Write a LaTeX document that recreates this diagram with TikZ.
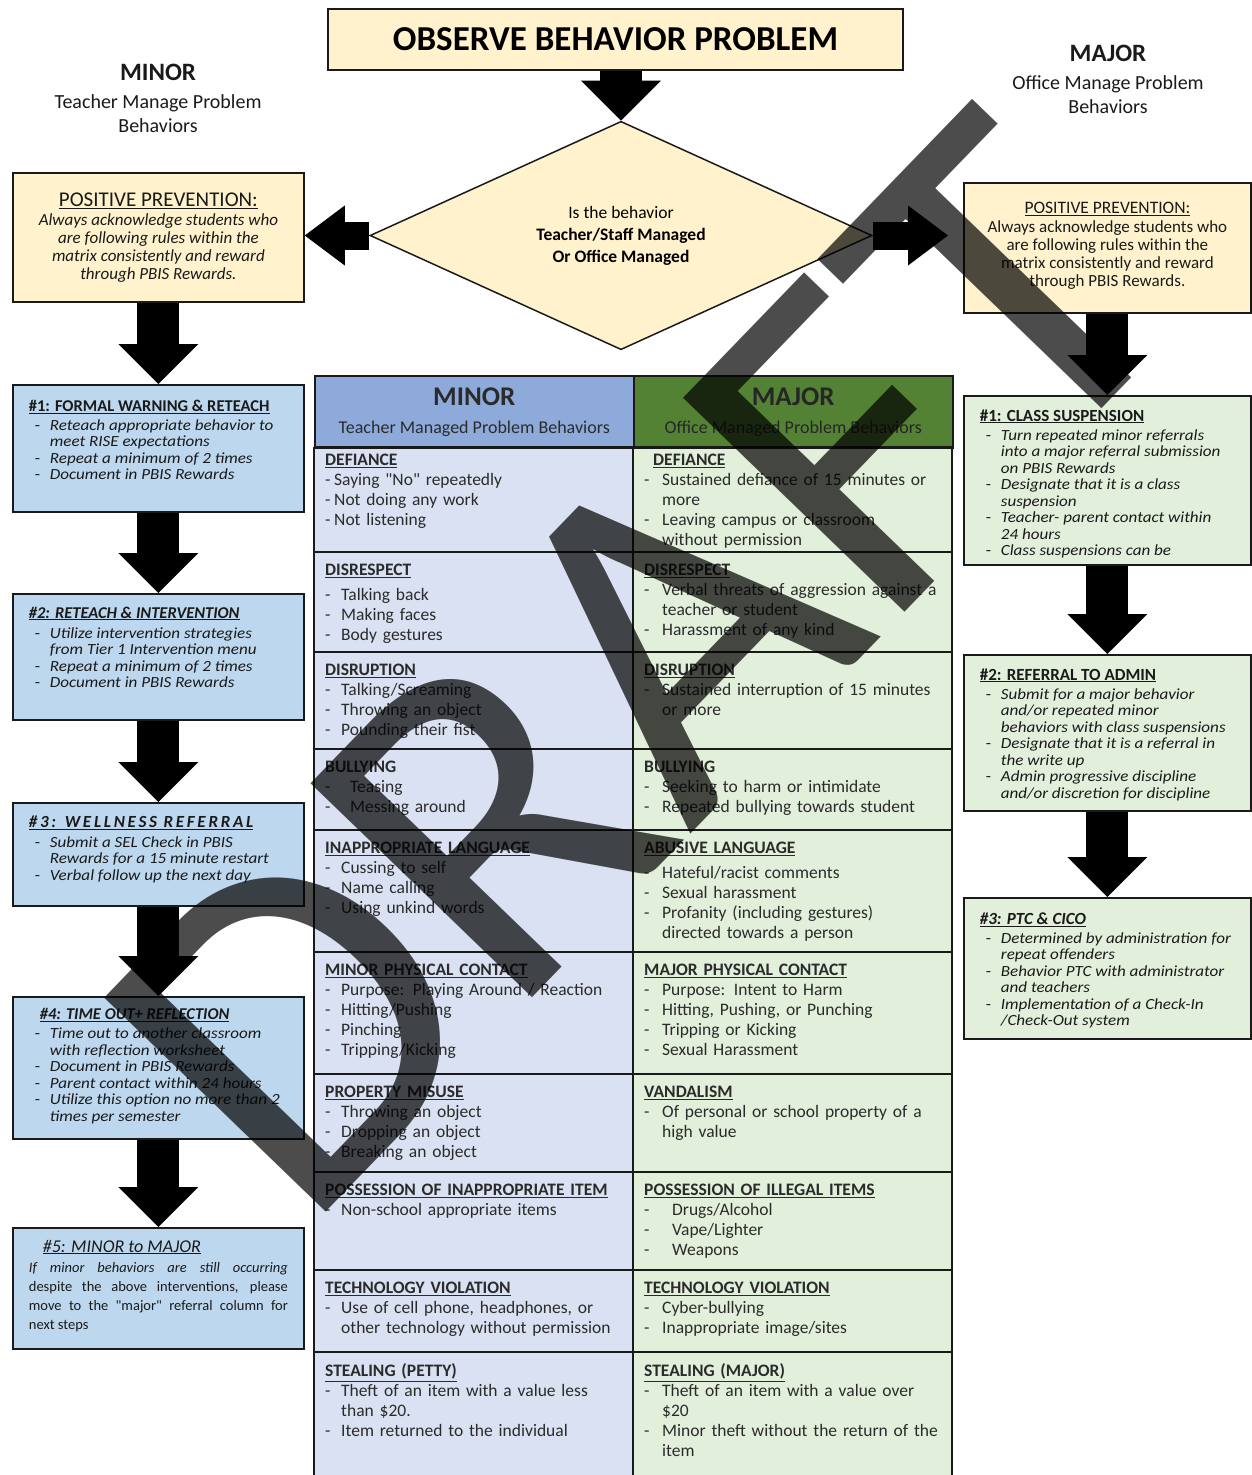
\documentclass[tikz,border=0pt]{standalone}
\usepackage{fontspec}
\setmainfont{Carlito}
\newfontfamily\boxfamily{Carlito}[FakeStretch=1.1]
\usepackage{tikz}
\usetikzlibrary{arrows.meta,positioning,shapes.geometric,calc}
\definecolor{Ink}{HTML}{1A1A1A}
\definecolor{Cream}{HTML}{FFF2CC}
\definecolor{SkyBlue}{HTML}{BDD7EE}
\definecolor{Sage}{HTML}{E2EFDA}
\definecolor{MinorHead}{HTML}{8EAADB}
\definecolor{MajorHead}{HTML}{548235}
\definecolor{MinorCell}{HTML}{D9E1F2}
\definecolor{MajorCell}{HTML}{E2EFDA}
\definecolor{Slate}{HTML}{2B2B2B}
\newcommand\boxfont{\boxfamily\fontsize{15.5}{16.5}\selectfont}
\newcommand\cellfont{\fontsize{17.5}{20}\selectfont}
\newcommand\hd[1]{\textbf{\underline{#1}}\par}
\newcommand\titem[2][16pt]{\hangindent=#1\hangafter=1\noindent\makebox[#1][l]{-}#2\par}
\newcommand\bx[1]{\hangindent=21pt\hangafter=1\noindent\makebox[21pt][l]{\hspace{6pt}\upshape-}#1\par}
\newcommand\leftbody[2]{\parbox[c][#1][t]{259pt}{\raggedright#2}}
\newcommand\rightbody[2]{\parbox[c][#1][t]{255pt}{\raggedright#2}}
\tikzset{
  stepbox/.style={draw=Ink,line width=1.8pt,anchor=north west,inner xsep=16pt,inner ysep=0pt,
              text=Ink,font=\boxfont},
  minorbox/.style={stepbox,fill=SkyBlue},
  majorbox/.style={stepbox,fill=Sage},
  ppbox/.style={stepbox,fill=Cream},
  titlebox/.style={draw=Ink,line width=1.8pt,fill=Cream,minimum width=575pt,minimum height=61pt,
              font=\fontsize{35}{40}\selectfont\bfseries},
  decision/.style={diamond,draw=Ink,line width=1.5pt,fill=Cream,minimum width=502pt,
              minimum height=161pt,inner sep=0pt,align=center,font=\fontsize{17.5}{22}\selectfont},
  sidehead/.style={align=center,text=Ink,font=\fontsize{20}{24}\selectfont},
  tablehead/.style={draw=Ink,line width=1.5pt,anchor=north west,minimum width=319pt,
              minimum height=72pt,align=center,inner sep=0pt,font=\fontsize{18}{24}\selectfont},
  celltext/.style={anchor=north west,inner sep=0pt,text width=320pt,align=left,text=Slate,font=\cellfont},
  grid/.style={draw=Ink,line width=1.5pt},
  downarrow/.style={line width=42pt,draw=black,-{Triangle[width=80pt,length=40pt,line width=0pt]}},
  sidearrow/.style={line width=28pt,draw=black,-{Triangle[width=60pt,length=40pt,line width=0pt]}},
  watermark/.style={inner sep=0pt,text=black,opacity=0.7,font=\fontsize{480}{480}\selectfont}
}

\begin{document}
\begin{tikzpicture}[x=1pt,y=-1pt]
  \useasboundingbox (0,0) rectangle (1251,1475);
  % decision at the top
  \node[titlebox] (observe) at (615.5,39.5) {OBSERVE BEHAVIOR PROBLEM};
  \node[decision] (ask) at (621,235.5) {Is the behavior\\\textbf{Teacher/Staff Managed}\\\textbf{Or Office Managed}};
  \node[sidehead] (minortitle) at (158,98) {{\fontsize{25}{28}\selectfont\bfseries MINOR}\\[4pt]Teacher Manage Problem\\Behaviors};
  \node[sidehead] (majortitle) at (1108,79) {{\fontsize{25}{28}\selectfont\bfseries MAJOR}\\[4pt]Office Manage Problem\\Behaviors};

  % minor steps
  \node[ppbox] (leftpp) at (12,172) {\leftbody{129pt}{\centering\vspace*{20pt}
    {\rmfamily\fontsize{21}{22}\selectfont\underline{POSITIVE PREVENTION:}}\par\vspace{1pt}
    \rmfamily\itshape\fontsize{17}{18}\selectfont Always acknowledge students who\\are following rules within the\\matrix consistently and reward\\through PBIS Rewards.}};
  \node[minorbox] (warn) at (12,384) {\leftbody{127pt}{\vspace*{15pt}
    {\rmfamily\bfseries\fontsize{16.5}{18}\selectfont\underline{\#1: FORMAL WARNING \& RETEACH}}\par\vspace{2.5pt}\itshape
    \bx{Reteach appropriate behavior to\newline meet RISE expectations}
    \bx{Repeat a minimum of 2 times}
    \bx{Document in PBIS Rewards}}};
  \node[minorbox] (reteach) at (12,593) {\leftbody{126pt}{\vspace*{12.8pt}
    {\rmfamily\bfseries\itshape\fontsize{16.5}{18}\selectfont\underline{\#2: RETEACH \& INTERVENTION}}\par\vspace{3.5pt}\itshape
    \bx{Utilize intervention strategies\newline from Tier 1 Intervention menu}
    \bx{Repeat a minimum of 2 times}
    \bx{Document in PBIS Rewards}}};
  \node[minorbox] (wellness) at (12,802) {\leftbody{103pt}{\vspace*{13pt}
    {\rmfamily\bfseries\itshape\fontsize{17}{18}\selectfont\addfontfeatures{LetterSpace=16}\underline{\#3: WELLNESS REFERRAL}}\par\vspace{3pt}\itshape
    \bx{Submit a SEL Check in PBIS\newline Rewards for a 15 minute restart}
    \bx{Verbal follow up the next day}}};
  \node[minorbox] (timeout) at (12,996) {\leftbody{142pt}{\vspace*{11.8pt}
    \hspace*{11pt}{\rmfamily\bfseries\itshape\fontsize{16.5}{18}\selectfont\underline{\#4: TIME OUT+ REFLECTION}}\par\vspace{2.5pt}\itshape
    \bx{Time out to another classroom\newline with reflection worksheet}
    \bx{Document in PBIS Rewards}
    \bx{Parent contact within 24 hours}
    \bx{Utilize this option no more than 2\newline times per semester}}};
  \node[minorbox] (tomajor) at (12,1227) {\parbox[c][121pt][t]{259pt}{\vspace*{12pt}
    \hspace*{14pt}{\rmfamily\itshape\fontsize{18}{20}\selectfont\underline{\#5: MINOR to MAJOR}}\par\vspace{1pt}
    \rmfamily\fontsize{14.5}{19}\selectfont{\itshape If minor behaviors are still occurring}\linebreak
    despite the above interventions, please\linebreak
    move to the \textquotedbl major\textquotedbl{} referral column for\linebreak
    next steps\par}};

  % major steps
  \node[ppbox] (rightpp) at (963,182) {\rightbody{130pt}{\centering\vspace*{19pt}
    {\rmfamily\fontsize{17.5}{20}\selectfont\underline{POSITIVE PREVENTION:}}\par\vspace{1pt}
    \rmfamily\fontsize{17}{18}\selectfont Always acknowledge students who\\are following rules within the\\matrix consistently and reward\\through PBIS Rewards.}};
  \node[majorbox] (suspend) at (963,395) {\rightbody{169pt}{\vspace*{13.6pt}
    {\rmfamily\bfseries\fontsize{17}{18}\selectfont\underline{\#1: CLASS SUSPENSION}}\par\vspace{2.5pt}\itshape
    \bx{Turn repeated minor referrals\newline into a major referral submission\newline on PBIS Rewards}
    \bx{Designate that it is a class\newline suspension}
    \bx{Teacher- parent contact within\newline 24 hours}
    \bx{Class suspensions can be}}};
  \node[majorbox] (admin) at (963,654) {\rightbody{156pt}{\vspace*{13.6pt}
    {\rmfamily\bfseries\fontsize{17}{18}\selectfont\underline{\#2: REFERRAL TO ADMIN}}\par\vspace{2.5pt}\itshape
    \bx{Submit for a major behavior\newline and/or repeated minor\newline behaviors with class suspensions}
    \bx{Designate that it is a referral in\newline the write up}
    \bx{Admin progressive discipline\newline and/or discretion for discipline}}};
  \node[majorbox] (ptc) at (963,897) {\rightbody{141pt}{\vspace*{14.6pt}
    {\rmfamily\bfseries\itshape\fontsize{17}{18}\selectfont\underline{\#3: PTC \& CICO}}\par\vspace{2.5pt}\itshape
    \bx{Determined by administration for\newline repeat offenders}
    \bx{Behavior PTC with administrator\newline and teachers}
    \bx{Implementation of a Check-In\newline /Check-Out system}}};

  \draw[downarrow] (ask.north |- observe.south) -- (ask.north);
  \draw[sidearrow] (ask.west) -- (ask.west -| leftpp.east);
  \draw[sidearrow,shorten >=15pt] (ask.east) -- (ask.east -| rightpp.west);
  \foreach \a/\b in {leftpp/warn,warn/reteach,reteach/wellness,wellness/timeout,timeout/tomajor,
                     rightpp/suspend,suspend/admin,admin/ptc}
    \draw[downarrow] (\a) -- (\b);

  % behavior table
  \fill[MinorCell] (314,447) rectangle (633,1476);
  \fill[MajorCell] (633,447) rectangle (952,1476);
  \node[tablehead,fill=MinorHead,text=Slate] (minorhead) at (314,375)
    {{\fontsize{27}{30}\selectfont\bfseries MINOR}\\[4pt]Teacher Managed Problem Behaviors};
  \node[tablehead,fill=MajorHead,text=black!85] (majorhead) at (633,375)
    {{\fontsize{27}{30}\selectfont\bfseries MAJOR}\\[4pt]Office Managed Problem Behaviors};
  \draw[grid] (314,447) -- (314,1476) (633,447) -- (633,1476) (952,447) -- (952,1476);
  \foreach \y in {447,552,652,749,830,952,1074,1172,1270,1352}
    \draw[grid] (314,\y) -- (952,\y);

  \node[celltext] (minor1) at (325,453.5) {\hd{DEFIANCE}\titem[9pt]{Saying \textquotedbl No\textquotedbl{} repeatedly}\titem[9pt]{Not doing any work}\titem[9pt]{Not listening}};
  \node[celltext] (minor2) at (325,563.5) {\hd{DISRESPECT}\vspace{5pt}\titem{Talking back}\titem{Making faces}\titem{Body gestures}};
  \node[celltext] (minor3) at (325,663.5) {\hd{DISRUPTION}\titem{Talking/Screaming}\titem{Throwing an object}\titem{Pounding their fist}};
  \node[celltext] (minor4) at (325,760.5) {\textbf{BULLYING}\par\titem[25pt]{Teasing}\titem[25pt]{Messing around}};
  \node[celltext] (minor5) at (325,841.5) {\hd{INAPPROPRIATE LANGUAGE}\titem{Cussing to self}\titem{Name calling}\titem{Using unkind words}};
  \node[celltext] (minor6) at (325,963.5) {\hd{MINOR PHYSICAL CONTACT}\titem{Purpose: Playing Around / Reaction}\titem{Hitting/Pushing}\titem{Pinching}\titem{Tripping/Kicking}};
  \node[celltext] (minor7) at (325,1085.5) {\hd{PROPERTY MISUSE}\titem{Throwing an object}\titem{Dropping an object}\titem{Breaking an object}};
  \node[celltext] (minor8) at (325,1183.5) {\hd{POSSESSION OF INAPPROPRIATE ITEM}\titem{Non-school appropriate items}};
  \node[celltext] (minor9) at (325,1281.5) {\hd{TECHNOLOGY VIOLATION}\titem{Use of cell phone, headphones, or\newline other technology without permission}};
  \node[celltext] (minor10) at (325,1363.5) {\hd{STEALING (PETTY)}\titem{Theft of an item with a value less\newline than \$20.}\titem{Item returned to the individual}};

  \node[celltext] (major1) at (644,453.5) {\hspace*{9pt}\hd{DEFIANCE}\titem[18pt]{Sustained defiance of 15 minutes or\newline more}\titem[18pt]{Leaving campus or classroom\newline without permission}};
  \node[celltext] (major2) at (644,563.5) {\hd{DISRESPECT}\titem[18pt]{Verbal threats of aggression against a\newline teacher or student}\titem[18pt]{Harassment of any kind}};
  \node[celltext] (major3) at (644,663.5) {\hd{DISRUPTION}\titem[18pt]{Sustained interruption of 15 minutes\newline or more}};
  \node[celltext] (major4) at (644,760.5) {\textbf{BULLYING}\par\titem[18pt]{Seeking to harm or intimidate}\titem[18pt]{Repeated bullying towards student}};
  \node[celltext] (major5) at (644,841.5) {\hd{ABUSIVE LANGUAGE}\vspace{5pt}\titem[18pt]{Hateful/racist comments}\titem[18pt]{Sexual harassment}\titem[18pt]{Profanity (including gestures)\newline directed towards a person}};
  \node[celltext] (major6) at (644,963.5) {\hd{MAJOR PHYSICAL CONTACT}\titem[18pt]{Purpose: Intent to Harm}\titem[18pt]{Hitting, Pushing, or Punching}\titem[18pt]{Tripping or Kicking}\titem[18pt]{Sexual Harassment}};
  \node[celltext] (major7) at (644,1085.5) {\hd{VANDALISM}\titem[18pt]{Of personal or school property of a\newline high value}};
  \node[celltext] (major8) at (644,1183.5) {\hd{POSSESSION OF ILLEGAL ITEMS}\titem[28pt]{Drugs/Alcohol}\titem[28pt]{Vape/Lighter}\titem[28pt]{Weapons}};
  \node[celltext] (major9) at (644,1281.5) {\hd{TECHNOLOGY VIOLATION}\titem[18pt]{Cyber-bullying}\titem[18pt]{Inappropriate image/sites}};
  \node[celltext] (major10) at (644,1363.5) {\hd{STEALING (MAJOR)}\titem[18pt]{Theft of an item with a value over\newline \$20}\titem[18pt]{Minor theft without the return of the\newline item}};

  % watermark on top
  \node[watermark,rotate=46] (draft) at (640,665) {DRAFT};
\end{tikzpicture}
\end{document}
